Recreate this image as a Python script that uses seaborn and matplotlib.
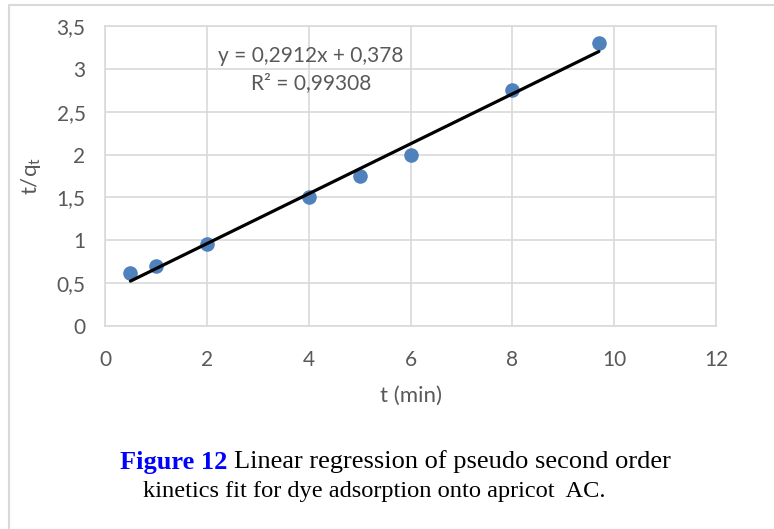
import numpy as np
import pandas as pd
import matplotlib
matplotlib.use('Agg')
import matplotlib.pyplot as plt
import matplotlib.patches as mpatches
from matplotlib.ticker import FuncFormatter
import seaborn as sns

# data
t_min = [0.5, 1, 2, 4, 5, 6, 8, 9.7]
t_over_qt = [0.62, 0.70, 0.96, 1.50, 1.75, 2.00, 2.75, 3.30]
slope = 0.2912
intercept = 0.378
r_squared = 0.99308

x_ticks = [0, 2, 4, 6, 8, 10, 12]
y_ticks = [0, 0.5, 1, 1.5, 2, 2.5, 3, 3.5]

df = pd.DataFrame({'t': t_min, 'tq': t_over_qt})

sns.set_style('white')
plt.rcParams['font.family'] = ['Lato', 'DejaVu Sans']

GRID = '#d9d9d9'
TXT = '#595959'

fig = plt.figure(figsize=(7.74, 5.29), dpi=100)
ax = fig.add_axes([105 / 774, 1 - 326 / 529, 611 / 774, 300 / 529])

ax.grid(True, color=GRID, linewidth=1.2)
ax.set_axisbelow(True)
for s in ax.spines.values():
    s.set_color(GRID)
    s.set_linewidth(1.2)

sns.scatterplot(data=df, x='t', y='tq', ax=ax, s=110, color='#4f81bd',
                edgecolor='#4f81bd', linewidth=0, zorder=3)

x_fit = np.array([min(t_min), max(t_min)])
ax.plot(x_fit, slope * x_fit + intercept, color='black', linewidth=2.3, zorder=4)

ax.set_xlim(0, 12)
ax.set_ylim(0, 3.5)
ax.set_xticks(x_ticks)
ax.set_yticks(y_ticks)
comma = FuncFormatter(lambda v, p: f'{v:g}'.replace('.', ','))
ax.xaxis.set_major_formatter(comma)
ax.yaxis.set_major_formatter(comma)
ax.tick_params(axis='both', length=0, labelsize=15, colors=TXT)
ax.tick_params(axis='x', pad=17)
ax.tick_params(axis='y', pad=14)

ax.set_xlabel('t (min)', fontsize=16, color=TXT, labelpad=12)
ax.set_ylabel(r't/q$_\mathregular{t}$', fontsize=16, color=TXT, labelpad=10)

eq = f'y = {slope:g}x + {intercept:g}'.replace('.', ',')
r2 = f'R² = {r_squared:g}'.replace('.', ',')
ax.text(4.04, 2.99, eq + '\n' + r2, ha='center', va='center', fontsize=15,
        color=TXT, linespacing=1.45)

# caption
serif = 'Liberation Serif'
fig.canvas.draw()
r = fig.canvas.get_renderer()
lead = fig.text(120 / 774, 1 - 462 / 529, 'Figure 12 ', ha='left', va='center',
                color='#0000ff', fontsize=19, fontweight='bold', family=serif)
bb = lead.get_window_extent(renderer=r)
fig.text(bb.x1 / fig.bbox.width, 1 - 462 / 529,
         'Linear regression of pseudo second order',
         ha='left', va='center', color='black', fontsize=19, family=serif)
fig.text(374 / 774, 1 - 492 / 529,
         'kinetics fit for dye adsorption onto apricot  AC.',
         ha='center', va='center', color='black', fontsize=17.6, family=serif)

# light frame around the chart
frame = mpatches.Rectangle((9 / 774, -0.1), 1.2, 1 - 5 / 529 + 0.1,
                           transform=fig.transFigure, fill=False,
                           edgecolor=GRID, linewidth=1.5)
fig.patches.append(frame)

fig.savefig('out.png', dpi=100)
